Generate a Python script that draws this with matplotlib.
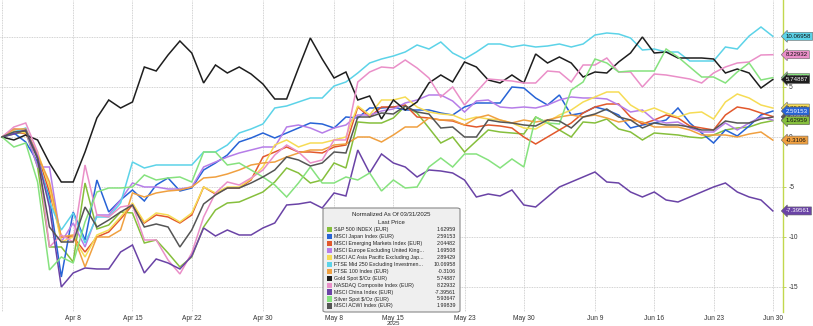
import numpy as np
import pandas as pd
import matplotlib.pyplot as plt
from matplotlib.patches import FancyBboxPatch, Rectangle

# business days from the normalization date
dates = pd.bdate_range("2025-03-31", "2025-06-30")

names = [
    "S&P 500 INDEX (EUR)",
    "MSCI Japan Index (EUR)",
    "MSCI Emerging Markets Index (EUR)",
    "MSCI Europe Excluding United King...",
    "MSCI AC Asia Pacific Excluding Jap...",
    "FTSE Mid 250 Excluding Investmen...",
    "FTSE 100 Index (EUR)",
    "Gold Spot $/Oz (EUR)",
    "NASDAQ Composite Index (EUR)",
    "MSCI China Index (EUR)",
    "Silver Spot $/Oz (EUR)",
    "MSCI ACWI Index (EUR)",
]
last_values = [1.62959, 2.59153, 2.04482, 1.69508, 2.89429, 10.06958,
               -0.3106, 5.74887, 8.22932, -7.39561, 5.93647, 1.99839]
colors = ["#86bf3c", "#2763d6", "#e2582c", "#b67de8", "#f6dc55", "#5cd3e8",
          "#f0a040", "#1e1e1e", "#ea8fc8", "#6a43a6", "#86e27e", "#555555"]
text_colors = ["#111111", "white", "white", "#111111", "#111111", "#111111",
               "#111111", "white", "#111111", "white", "#111111", "white"]

sp500 = [0, 0.3, 0.5, -3.0, -11.0, -11.0, -12.5, -4.6, -9.2, -8.8, -7.5, -7.6, -10.6, -10.3,
         -11.6, -13.0, -12.0, -9.0, -7.3, -6.6, -6.5, -6.0, -5.5, -4.5, -3.1, -3.6, -4.6, -4.3,
         -2.6, -3.1, 1.5, 1.4, 1.4, 1.9, 3.1, 2.4, 0.9, -0.6, 0.0, -1.5, -0.4, 0.7, 0.5, 0.4,
         0.3, 2.0, 1.4, 0.7, 0.0, 1.5, 1.4, 1.8, 0.8, 0.5, -0.3, 0.4, 0.3, 0.2, 0.0, -0.1,
         0.2, 0.7, 0.9, 1.0, 1.4, 1.62959]
japan = [0, 0.4, -0.5, -2.5, -6.0, -14.0, -7.5, -10.3, -4.3, -7.5, -6.3, -5.3, -6.4, -4.8,
         -4.1, -5.4, -5.1, -3.3, -2.6, -1.8, -0.5, -0.1, 0.4, -0.1, 0.4, 0.9, 1.4, 1.3, 0.9,
         2.0, 1.9, 2.9, 2.9, 3.0, 2.7, 2.7, 2.7, 2.4, 2.2, 3.0, 3.4, 3.4, 3.4, 5.0, 4.9, 3.9,
         3.2, 4.2, 2.2, 2.4, 3.0, 2.7, 2.2, 0.9, 1.2, 1.4, 1.7, 2.9, 1.4, 0.4, -0.6, 0.7,
         0.1, 1.1, 2.2, 2.59153]
em = [0, 0.6, 0.3, -1.8, -5.5, -10.0, -10.0, -11.5, -10.0, -9.5, -8.2, -6.8, -8.6, -7.8,
      -8.0, -8.6, -7.8, -5.0, -5.7, -5.1, -5.1, -4.3, -2.0, -1.5, -1.0, -1.5, -1.5, -1.6,
      -1.0, -0.8, 3.0, 2.0, 3.0, 3.0, 3.2, 2.0, 1.9, 1.7, 1.6, 1.2, 1.0, 1.2, 1.1, 0.9, 0.0,
      -0.7, 0.0, 0.7, 1.4, 2.4, 3.0, 3.3, 3.3, 2.0, 1.3, 1.7, 2.2, 1.9, 1.1, 0.9, 0.7, 2.2,
      3.0, 2.8, 2.4, 2.04482]
europe = [0, 0.8, 0.6, -3.0, -3.0, -10.5, -8.6, -11.0, -7.8, -7.8, -6.3, -4.6, -5.0, -5.0,
          -5.2, -5.2, -5.0, -3.0, -2.5, -2.0, -1.6, -1.3, -1.0, -1.0, 1.0, 1.2, 0.9, 0.4, 0.9,
          1.2, 2.2, 2.2, 2.6, 2.8, 3.4, 3.7, 4.2, 4.2, 3.6, 2.5, 3.6, 3.7, 3.0, 2.9, 3.0, 2.9,
          3.2, 3.7, 4.0, 3.9, 3.9, 3.8, 3.2, 2.5, 2.7, 1.7, 1.4, 1.5, 0.9, 0.5, 0.5, 1.4, 0.7,
          1.4, 2.0, 1.69508]
asia_pac = [0, 0.6, 0.4, -1.5, -5.0, -10.5, -10.0, -12.0, -9.8, -9.3, -8.0, -6.6, -8.5, -7.6,
            -7.8, -8.5, -7.6, -5.0, -5.6, -5.0, -5.0, -4.2, -3.0, -0.8, -0.3, -1.0, -0.6, -0.6,
            -0.3, 0.0, 3.1, 2.2, 3.7, 3.7, 4.0, 3.0, 2.5, 2.3, 2.2, 1.7, 2.0, 1.8, 1.7, 1.4, 0.9,
            0.8, 1.5, 2.2, 2.7, 3.5, 4.0, 4.5, 4.5, 3.2, 2.5, 2.9, 2.4, 2.0, 2.4, 2.5, 1.8, 3.5,
            4.3, 3.9, 3.2, 2.89429]
mid250 = [0, 0.5, 0.9, -2.0, -6.5, -9.3, -7.6, -10.6, -8.0, -8.0, -6.6, -2.5, -3.1, -2.8,
          -2.8, -2.8, -2.8, -1.5, -1.5, -0.8, 0.4, 0.8, 1.3, 2.9, 3.1, 3.5, 3.9, 3.9, 5.1, 5.5,
          6.4, 7.4, 7.8, 8.1, 8.5, 9.2, 8.8, 9.5, 8.4, 7.8, 8.5, 9.3, 9.3, 9.0, 9.2, 9.0, 9.1,
          9.3, 9.0, 9.3, 10.2, 10.4, 10.3, 9.9, 8.7, 8.8, 8.5, 8.5, 7.6, 7.6, 7.6, 9.0, 8.8,
          10.1, 11.0, 10.06958]
ftse100 = [0, 0.8, 0.8, -1.8, -4.5, -10.0, -9.8, -13.0, -10.0, -10.0, -9.3, -5.6, -6.0, -5.6,
           -5.4, -5.3, -5.0, -4.1, -4.0, -3.7, -3.3, -2.8, -2.6, -2.5, -2.0, -1.6, -1.3, -1.3,
           -0.8, -0.7, 0.0, 0.0, -0.5, 0.2, 1.0, 1.0, 1.9, 1.7, 1.7, 1.2, 1.9, 2.2, 1.7, 1.4,
           1.7, 1.5, 1.7, 2.0, 2.2, 2.0, 2.2, 1.9, 1.5, 1.7, 1.5, 1.0, 1.0, 1.0, 0.7, 0.2, 0.2,
           0.2, 0.0, 0.3, 0.5, -0.3106]
gold = [0, -0.3, 0.2, -0.3, -2.6, -4.5, -4.5, -1.5, 1.9, 3.7, 2.9, 3.5, 7.0, 6.6, 8.2, 9.6,
        8.4, 5.4, 7.2, 6.4, 7.0, 6.3, 5.3, 3.8, 3.8, 6.9, 9.9, 7.8, 5.9, 6.5, 3.7, 4.1, 1.8,
        3.7, 2.7, 3.5, 5.4, 6.2, 5.5, 7.5, 7.0, 5.7, 5.4, 6.2, 5.4, 8.3, 7.4, 8.0, 7.4, 6.0,
        6.5, 6.4, 7.5, 8.4, 10.0, 8.4, 8.5, 7.9, 7.9, 7.9, 7.8, 6.4, 6.8, 6.4, 4.9, 5.74887]
nasdaq = [0, 1.0, 1.4, -1.5, -11.0, -9.8, -10.5, -2.8, -7.8, -8.0, -7.0, -6.8, -10.3, -10.3,
          -12.3, -13.7, -11.6, -8.0, -5.6, -4.5, -4.8, -4.1, -3.3, -1.8, -0.8, -1.5, -2.6,
          -2.3, -0.3, -0.3, 5.5, 6.5, 7.0, 6.9, 7.7, 6.9, 5.9, 4.0, 5.0, 3.2, 4.5, 5.8, 5.7,
          5.6, 5.4, 5.4, 6.6, 6.5, 5.5, 7.2, 7.2, 7.9, 6.5, 6.5, 5.0, 6.3, 6.2, 6.0, 5.8, 5.4,
          6.4, 7.0, 7.4, 7.5, 8.2, 8.22932]
china = [0, 0.3, 0.7, -2.0, -7.0, -15.0, -13.6, -13.1, -13.2, -13.2, -11.5, -10.8, -13.6,
         -12.2, -12.6, -13.2, -11.9, -9.1, -9.9, -9.3, -9.8, -9.8, -9.1, -8.6, -6.8, -6.7,
         -6.5, -7.1, -5.6, -5.9, -1.3, -3.6, -1.7, -2.6, -3.0, -4.0, -3.3, -3.4, -3.6, -4.3,
         -6.0, -5.7, -5.9, -5.3, -6.8, -7.0, -6.0, -5.0, -4.5, -4.0, -3.5, -4.5, -4.6, -5.5,
         -6.0, -5.5, -6.3, -6.5, -6.0, -5.5, -5.0, -4.6, -5.5, -6.0, -6.3, -7.39561]
silver = [0, -1.0, -0.6, -4.5, -13.3, -12.0, -12.6, -8.5, -5.5, -5.1, -5.1, -5.0, -3.8, -4.3,
          -4.1, -4.0, -4.5, -1.5, -1.5, -2.8, -2.6, -3.3, -4.0, -4.8, -6.0, -4.6, -3.0, -4.6,
          -4.6, -4.0, -4.3, -3.6, -5.4, -4.3, -5.1, -5.0, -3.0, -2.1, -3.0, -1.7, -1.7, -2.3,
          -3.1, -2.2, -3.0, 2.0, 1.4, 1.3, 4.7, 5.5, 7.8, 7.4, 6.5, 6.6, 6.6, 6.6, 8.8, 8.0,
          7.0, 6.0, 6.0, 5.4, 6.5, 7.4, 5.7, 5.93647]
acwi = [0, 0.5, 0.6, -2.2, -9.0, -10.5, -10.5, -7.0, -9.0, -8.3, -7.5, -6.8, -9.0, -8.7,
        -9.0, -11.0, -9.3, -6.7, -5.8, -5.1, -5.1, -4.6, -4.0, -3.3, -2.0, -2.3, -2.9, -2.6,
        -1.5, -1.6, 2.0, 2.0, 2.4, 2.3, 3.1, 2.5, 2.3, 0.9, 1.0, 0.0, 0.0, 1.7, 1.5, 1.4, 1.2,
        1.1, 1.7, 1.6, 0.9, 2.0, 2.3, 2.8, 2.0, 1.7, 0.9, 1.4, 1.2, 1.2, 1.0, 0.7, 0.7, 1.6,
        1.4, 1.4, 1.8, 1.99839]

series = [sp500, japan, em, europe, asia_pac, mid250, ftse100, gold, nasdaq, china, silver, acwi]

tick_labels = ["Apr 8", "Apr 15", "Apr 22", "Apr 30", "May 8", "May 15",
               "May 23", "May 30", "Jun 9", "Jun 16", "Jun 23", "Jun 30"]
tick_dates = pd.to_datetime([d + " 2025" for d in tick_labels], format="%b %d %Y")
y_ticks = [10, 5, 0, -5, -10, -15]

plt.rcParams["font.family"] = ["Liberation Sans", "DejaVu Sans"]

fig = plt.figure(figsize=(8.13, 3.26), dpi=100)
ax = fig.add_axes([0.0, 0.043, 0.963, 0.957])

x = np.arange(len(dates))
for vals, col in zip(series, colors):
    ax.plot(x, vals, color=col, lw=1.1, solid_joinstyle="miter")

ax.set_xlim(-0.17, 65.85)
ax.set_ylim(-17.5, 13.7)

tick_pos = [dates.get_loc(d) for d in tick_dates]
ax.set_xticks(tick_pos)
ax.set_xticklabels(tick_labels, fontsize=4.8, color="#333333")
ax.set_xticks([0], minor=True)
ax.tick_params(axis="x", which="both", length=0, pad=2.0)
ax.text(tick_pos[5], -0.03, "2025", transform=ax.get_xaxis_transform(),
        ha="center", va="top", fontsize=4.3, color="#333333")

ax.yaxis.tick_right()
ax.set_yticks(y_ticks)
ax.set_yticklabels([str(v) for v in y_ticks], fontsize=4.8, color="#333333")
ax.tick_params(axis="y", length=2, width=0.6, color="#b7cf4a", pad=2)

ax.grid(True, which="both", color="#c4c4c4", ls=(0, (1, 1)), lw=0.6)
for side in ["top", "left", "bottom"]:
    ax.spines[side].set_visible(False)
ax.spines["right"].set_color("#c2d84e")
ax.spines["right"].set_linewidth(1.0)

# last-value tags on the right axis (drawn back to front)
tag_order = [10, 4, 2, 3, 11, 1, 0, 6, 9, 7, 8, 5]
for k, idx in enumerate(tag_order):
    ax.annotate(str(last_values[idx]), xy=(1.0, last_values[idx]),
                xycoords=("axes fraction", "data"), xytext=(2.0, 0),
                textcoords="offset points", ha="left", va="center",
                fontsize=4.4, color=text_colors[idx], annotation_clip=False,
                zorder=10 + k,
                bbox=dict(boxstyle="larrow,pad=0.25", fc=colors[idx],
                          ec="#666666", lw=0.4))

# legend panel
lx0, ly0, lx1, ly1 = 323, 208, 460, 312
W, H = 813, 326
box = FancyBboxPatch((lx0 / W, 1 - ly1 / H), (lx1 - lx0) / W, (ly1 - ly0) / H,
                     boxstyle="round,pad=0,rounding_size=0.004",
                     transform=fig.transFigure, fc="#efefef", ec="#8a8a8a",
                     lw=0.8, zorder=20)
fig.patches.append(box)
cx = (lx0 + lx1) / 2 / W
fig.text(cx, 1 - 215 / H, "Normalized As Of 03/31/2025", ha="center", va="center",
         fontsize=4.3, color="#222222", zorder=21)
fig.text(cx, 1 - 222.5 / H, "Last Price", ha="center", va="center",
         fontsize=4.3, color="#222222", zorder=21)
for i, (name, val, col) in enumerate(zip(names, last_values, colors)):
    yc = 229.5 + i * 6.95
    sq = Rectangle(((lx0 + 3.5) / W, 1 - (yc + 2.6) / H), 5.2 / W, 5.2 / H,
                   transform=fig.transFigure, fc=col, ec="none", zorder=21)
    fig.patches.append(sq)
    fig.text((lx0 + 11) / W, 1 - yc / H, name, ha="left", va="center",
             fontsize=3.8, color="#222222", zorder=21)
    fig.text((lx1 - 4) / W, 1 - yc / H, str(val), ha="right", va="center",
             fontsize=3.8, color="#222222", zorder=21)

fig.savefig("out.png", dpi=100)
